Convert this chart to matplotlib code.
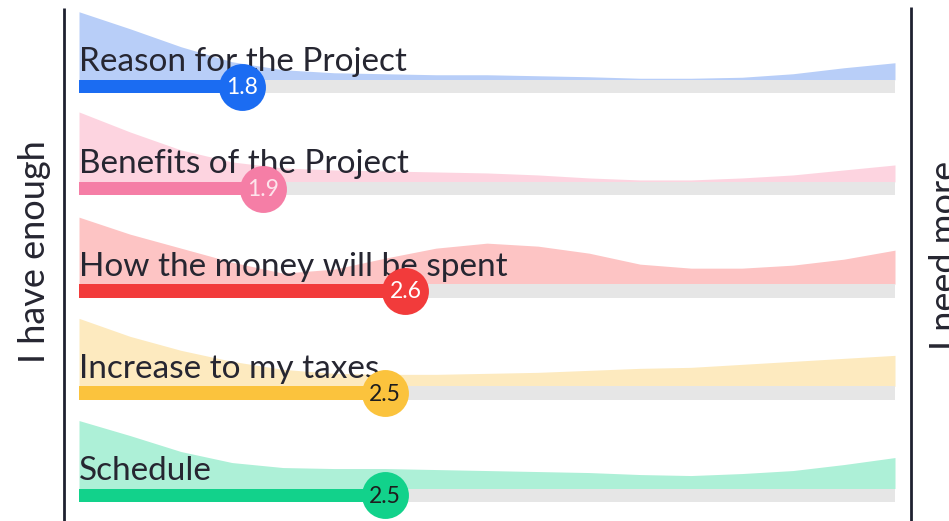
"""
Survey ridge chart: how much info respondents feel they have per topic.
Each row = density ridge + progress bar up to the mean score (1..5).
"""

import matplotlib
matplotlib.use("Agg")
import matplotlib.pyplot as plt

# --- data -----------------------------------------------------------------
topics = [
    "Reason for the Project",
    "Benefits of the Project",
    "How the money will be spent",
    "Increase to my taxes",
    "Schedule",
]
means = [1.8, 1.9, 2.6, 2.5, 2.5]

# response scale and the points where the ridge heights were read
scale_min, scale_max = 1, 5
grid = [1.0, 1.25, 1.5, 1.75, 2.0, 2.25, 2.5, 2.75, 3.0,
        3.25, 3.5, 3.75, 4.0, 4.25, 4.5, 4.75, 5.0]

# relative density of answers (ridge height)
dens_reason = [68, 51, 33, 18, 10, 7, 6, 5, 5, 4, 3, 1.5, 1.5, 2.5, 6, 12, 17]
dens_benefits = [70, 50, 32, 20, 14, 12, 11, 10, 9, 7, 4, 2, 2, 4, 7, 12, 17]
dens_money = [67, 50, 36, 22, 11, 15, 26, 36, 41, 38, 31, 20, 16, 16, 19, 25, 34]
dens_taxes = [68, 50, 36, 25, 17, 13, 12, 12, 13, 14, 16, 18, 19, 22, 25, 28, 31]
dens_schedule = [68, 53, 37, 26, 21, 20, 20, 19, 18, 17, 16, 14, 13, 15, 18, 24, 31]
densities = [dens_reason, dens_benefits, dens_money, dens_taxes, dens_schedule]

left_label = "I have enough"
right_label = "I need more"

# --- styling --------------------------------------------------------------
bar_colors = ["#1b6cf2", "#f57ea6", "#f23b3b", "#fbc33d", "#12d28b"]
ridge_colors = ["#b8cef8", "#fdd4e0", "#fdc4c4", "#fdeabf", "#adf0d7"]
num_colors = ["#ffffff", "#fde4ec", "#ffffff", "#1e1e1e", "#1e1e1e"]
track_color = "#e6e6e6"
text_color = "#262631"
line_color = "#1e2130"
FONT = "Lato"

W, H = 949, 521
x0_px, unit_px = 79, 204          # scale 1 sits at x=79px, 204px per point
row0_px, row_step = 86.5, 102.2   # bar centre of first row, row spacing
bar_h = 13.5

fig = plt.figure(figsize=(W / 100, H / 100), dpi=100)
fig.patch.set_facecolor("white")
ax = fig.add_axes([0, 0, 1, 1])
ax.set_xlim(scale_min - x0_px / unit_px, scale_min + (W - x0_px) / unit_px)
ax.set_ylim(H, 0)
ax.axis("off")

for i, topic in enumerate(topics):
    yc = row0_px + row_step * i
    base = yc - bar_h / 2

    # density ridge sitting on top of the bar
    top = [base - d for d in densities[i]]
    ax.fill_between(grid, base, top, color=ridge_colors[i], lw=0, zorder=1)

    # grey track + coloured progress bar
    ax.barh(yc, scale_max - scale_min, left=scale_min, height=bar_h,
            color=track_color, lw=0, zorder=2)
    ax.barh(yc, means[i] - scale_min, left=scale_min, height=bar_h,
            color=bar_colors[i], lw=0, zorder=2)

    ax.text(scale_min, base - 8.5, topic, fontsize=24, family=FONT,
            color=text_color, ha="left", va="baseline", zorder=3)

    # score bubble
    ax.scatter([means[i]], [yc], s=1140, color=bar_colors[i], lw=0, zorder=4)
    ax.text(means[i], yc + 1, f"{means[i]:.1f}", fontsize=16.5, family=FONT,
            color=num_colors[i], ha="center", va="center", zorder=5)

# side rules
ax.plot([64 / W, 64 / W], [1 - 8 / H, 0], transform=ax.transAxes,
        color=line_color, lw=2, solid_capstyle="butt", zorder=3)
ax.plot([911 / W, 911 / W], [1 - 7 / H, 0], transform=ax.transAxes,
        color=line_color, lw=2, solid_capstyle="butt", zorder=3)

ax.text(35 / W, 1 - 252 / H, left_label, transform=ax.transAxes,
        rotation=90, fontsize=26, family=FONT, color=text_color,
        ha="center", va="center")
ax.text(929 / W, 1 - 255 / H, right_label, transform=ax.transAxes,
        rotation=90, fontsize=26, family=FONT, color=text_color,
        ha="left", va="center")

fig.savefig("out.png", dpi=100, facecolor="white")
